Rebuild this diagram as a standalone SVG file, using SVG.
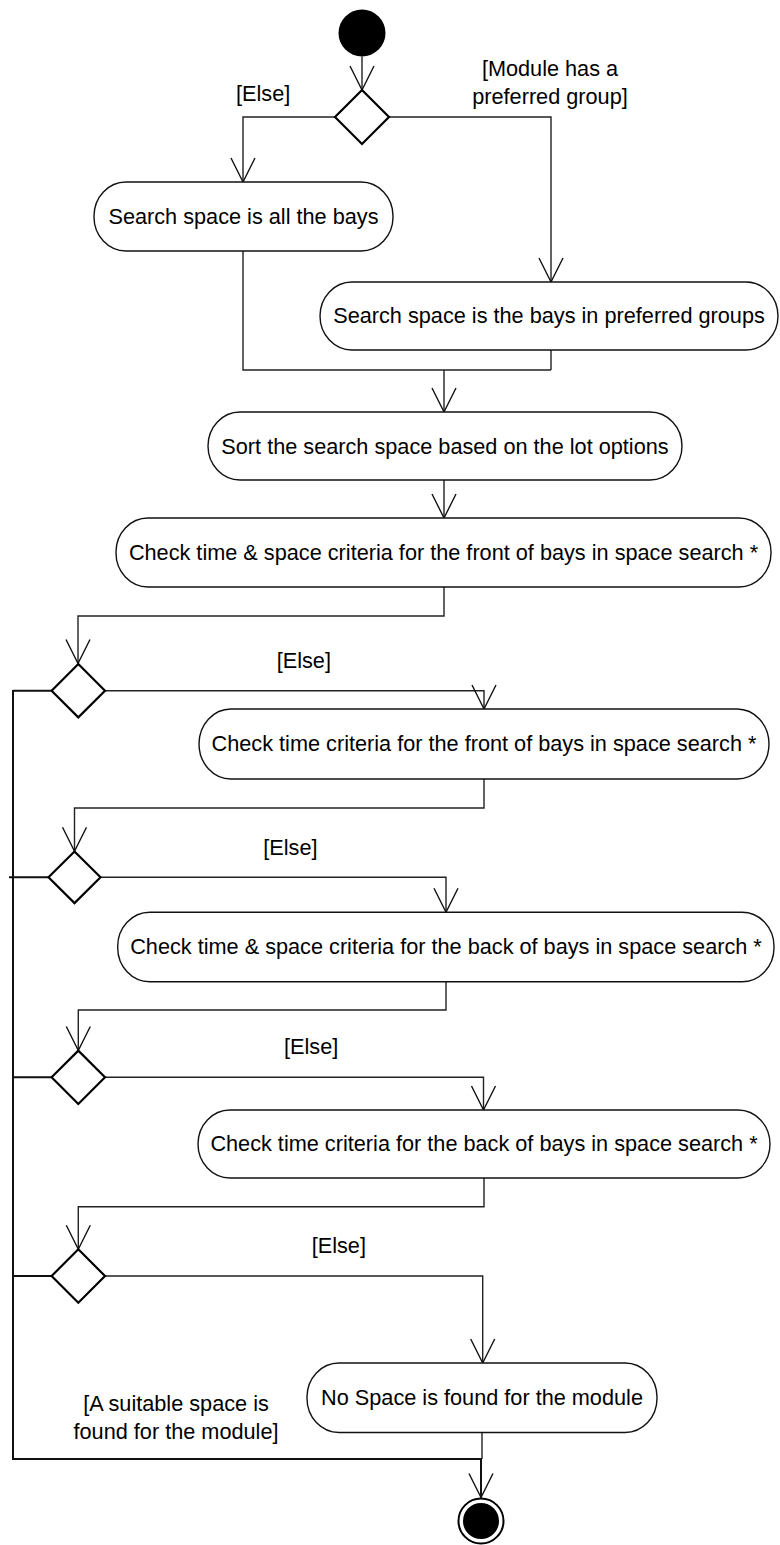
<svg xmlns="http://www.w3.org/2000/svg" width="780" height="1545" viewBox="0 0 780 1545">
  <defs>
    <style>
      .act { fill: #fff; stroke: #111; stroke-width: 1.4; }
      .dec { fill: #fff; stroke: #000; stroke-width: 2.2; }
      .lbl { font-family: "Liberation Sans", Arial, sans-serif; font-size: 21.7px; fill: #000; }
      .mid { text-anchor: middle; }
      .flow { fill: none; stroke: #222; stroke-width: 1.4; }
      .trunk { fill: none; stroke: #111; stroke-width: 2; }
      .arr { marker-end: url(#open); }
    </style>
    <marker id="open" markerUnits="userSpaceOnUse" markerWidth="30" markerHeight="30" refX="24" refY="12" orient="auto" overflow="visible">
      <path d="M0,0 L24,12 L0,24" fill="none" stroke="#111" stroke-width="1.4"/>
    </marker>
  </defs>
  <rect width="780" height="1545" fill="#fff"/>

  <!-- connectors -->
  <g id="connectors">
    <path class="flow arr" d="M362,56.5 L362,90"/>
    <path class="flow arr" d="M335,117 L243,117 L243,182"/>
    <path class="flow arr" d="M388.5,117 L551,117 L551,282"/>
    <path class="flow" d="M243,251 L243,370 L551,370 M551,350 L551,370"/>
    <path class="flow arr" d="M444,370 L444,412"/>
    <path class="flow arr" d="M444,480 L444,518"/>
    <path class="flow arr" d="M444,587 L444,616 L78,616 L78,663.5"/>
    <path class="flow arr" d="M105,690.7 L484,690.7 L484,709"/>
    <path class="flow arr" d="M484,779 L484,808 L74.5,808 L74.5,851.3"/>
    <path class="flow arr" d="M100.5,877.3 L446,877.3 L446,912.3"/>
    <path class="flow arr" d="M446,981.7 L446,1010 L78.3,1010 L78.3,1050.5"/>
    <path class="flow arr" d="M105,1077.3 L483.5,1077.3 L483.5,1110"/>
    <path class="flow arr" d="M484,1178 L484,1206.7 L78.3,1206.7 L78.3,1249.2"/>
    <path class="flow arr" d="M105,1276 L482.7,1276 L482.7,1363"/>
    <path class="flow" d="M482,1432.5 L482,1459"/>
    <path class="trunk" d="M13,690.7 L51.6,690.7 M9,877.3 L48.5,877.3 M13,1077.3 L51.6,1077.3 M13,1276 L51.6,1276"/>
    <path class="trunk arr" d="M13,690 L13,1459 L481,1459 L481,1497.5"/>
  </g>

  <!-- guard labels -->
  <g id="guards">
    <text class="lbl" x="236" y="100.5">[Else]</text>
    <text class="lbl mid" x="550" y="76">[Module has a</text>
    <text class="lbl mid" x="550" y="104">preferred group]</text>
    <text class="lbl" x="276.7" y="668">[Else]</text>
    <text class="lbl" x="263.3" y="854.7">[Else]</text>
    <text class="lbl" x="284" y="1054">[Else]</text>
    <text class="lbl" x="311.7" y="1253">[Else]</text>
    <text class="lbl mid" x="176" y="1411">[A suitable space is</text>
    <text class="lbl mid" x="176" y="1439">found for the module]</text>
  </g>

  <!-- start -->
  <g id="start">
    <circle cx="362" cy="33" r="23.5" fill="#000"/>
  </g>

  <!-- decisions -->
  <g id="decision1"><path class="dec" d="M362,90 L389,117 L362,144 L335,117 Z"/></g>
  <g id="decision2"><path class="dec" d="M78.3,664 L105,690.7 L78.3,717.4 L51.6,690.7 Z"/></g>
  <g id="decision3"><path class="dec" d="M74.5,851.5 L100.5,877.3 L74.5,903.1 L48.5,877.3 Z"/></g>
  <g id="decision4"><path class="dec" d="M78.3,1050.6 L105,1077.3 L78.3,1104 L51.6,1077.3 Z"/></g>
  <g id="decision5"><path class="dec" d="M78.3,1249.3 L105,1276 L78.3,1302.7 L51.6,1276 Z"/></g>

  <!-- activities -->
  <g id="all-bays">
    <rect class="act" x="94" y="182" width="299" height="69" rx="32" ry="34"/>
    <text class="lbl mid" x="243.5" y="223.5">Search space is all the bays</text>
  </g>
  <g id="preferred-bays">
    <rect class="act" x="320" y="282" width="458" height="68" rx="32" ry="34"/>
    <text class="lbl mid" x="549" y="323">Search space is the bays in preferred groups</text>
  </g>
  <g id="sort">
    <rect class="act" x="208" y="412" width="474" height="68" rx="32" ry="34"/>
    <text class="lbl mid" x="445" y="453.5">Sort the search space based on the lot options</text>
  </g>
  <g id="front-time-space">
    <rect class="act" x="116" y="518" width="655" height="69" rx="32" ry="34"/>
    <text class="lbl mid" x="443.5" y="560">Check time &amp; space criteria for the front of bays in space search *</text>
  </g>
  <g id="front-time">
    <rect class="act" x="199" y="709" width="570" height="70" rx="32" ry="35"/>
    <text class="lbl mid" x="484" y="751">Check time criteria for the front of bays in space search *</text>
  </g>
  <g id="back-time-space">
    <rect class="act" x="117.7" y="912.3" width="656.3" height="69.4" rx="32" ry="34"/>
    <text class="lbl mid" x="446" y="954">Check time &amp; space criteria for the back of bays in space search *</text>
  </g>
  <g id="back-time">
    <rect class="act" x="198" y="1110" width="572" height="68" rx="32" ry="34"/>
    <text class="lbl mid" x="484" y="1151">Check time criteria for the back of bays in space search *</text>
  </g>
  <g id="no-space">
    <rect class="act" x="307" y="1363" width="350" height="69.5" rx="32" ry="34"/>
    <text class="lbl mid" x="482" y="1405">No Space is found for the module</text>
  </g>

  <!-- end -->
  <g id="end">
    <circle cx="481" cy="1521" r="22.5" fill="#fff" stroke="#000" stroke-width="2"/>
    <circle cx="481" cy="1521" r="18" fill="#000"/>
  </g>
</svg>
